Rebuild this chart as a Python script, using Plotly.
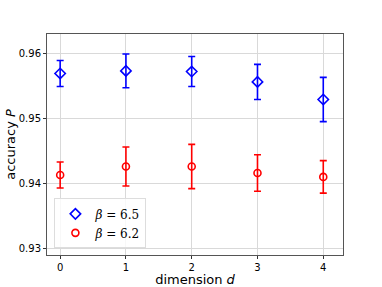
import plotly.graph_objects as go

dims = [0, 1, 2, 3, 4]
acc_b65 = [0.9569, 0.9573, 0.9572, 0.9556, 0.9529]
err_b65 = [0.0020, 0.0026, 0.0023, 0.0027, 0.0034]
acc_b62 = [0.9413, 0.9426, 0.9426, 0.9416, 0.9410]
err_b62 = [0.0020, 0.0030, 0.0034, 0.0028, 0.0025]
x_ticks = [0, 1, 2, 3, 4]
y_ticks = [0.93, 0.94, 0.95, 0.96]
y_tick_text = ["0.93", "0.94", "0.95", "0.96"]

fig = go.Figure()
fig.add_trace(go.Scatter(
    x=dims, y=acc_b65, mode="markers", name="<i>β</i> = 6.5",
    marker=dict(symbol="diamond-open", size=8, color="#0000ff", line=dict(width=1.6, color="#0000ff")),
    error_y=dict(type="data", array=err_b65, color="#0000ff", thickness=1.6, width=3.5),
))
fig.add_trace(go.Scatter(
    x=dims, y=acc_b62, mode="markers", name="<i>β</i> = 6.2",
    marker=dict(symbol="circle-open", size=7, color="#ff0000", line=dict(width=1.6, color="#ff0000")),
    error_y=dict(type="data", array=err_b62, color="#ff0000", thickness=1.6, width=3.5),
))

axis_common = dict(
    showline=True, linecolor="#555555", linewidth=1, mirror=True,
    showgrid=True, gridcolor="#d9d9d9", gridwidth=1.2,
    ticks="outside", ticklen=3, tickcolor="#333333",
    tickfont=dict(family="DejaVu Sans", size=10, color="#000"),
    zeroline=False, automargin=False,
)

fig.update_layout(
    width=382, height=287,
    margin=dict(l=47, r=39, t=34, b=32),
    plot_bgcolor="white", paper_bgcolor="white",
    font=dict(family="DejaVu Sans", color="#000"),
    xaxis=dict(range=[-0.2, 4.3], tickvals=x_ticks,
               title=dict(text="dimension <i>d</i>", font=dict(size=13), standoff=2),
               **axis_common),
    yaxis=dict(range=[0.92899, 0.96297], tickvals=y_ticks, ticktext=y_tick_text,
               title=dict(text="accuracy <i>P</i>", font=dict(size=13), standoff=0),
               **axis_common),
    legend=dict(x=0.025, y=0.03, xanchor="left", yanchor="bottom",
                bgcolor="rgba(255,255,255,0.8)", bordercolor="#dddddd", borderwidth=1,
                font=dict(family="DejaVu Serif", size=12), itemwidth=30),
    showlegend=True,
)

fig.write_html("out.html", config={"displayModeBar": False},
               post_script="document.body.style.margin='0';document.body.style.padding='0';")
